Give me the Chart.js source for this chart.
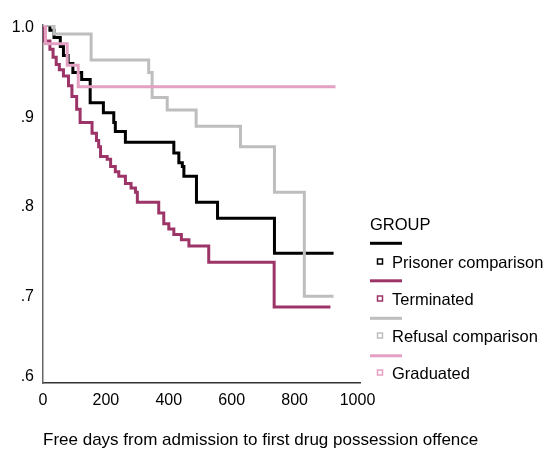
<!DOCTYPE html>
<html>
<head>
<meta charset="utf-8">
<script src="https://cdn.jsdelivr.net/npm/chart.js@4"></script>
<style>
  body { margin: 0; background: #fff; }
</style>
</head>
<body>
<canvas id="mycanvas" width="549" height="449"></canvas>
<script>
// survival curves (days -> cumulative survival)
var groups = ['Prisoner comparison', 'Terminated', 'Refusal comparison', 'Graduated'];
var colors = ['#000000', '#9c3468', '#bebebe', '#e4a0c2'];
var xTitle = 'Free days from admission to first drug possession offence';

var prisonerDays = [0, 22, 35, 55, 65, 80, 95, 123, 150, 192, 225, 230, 262, 416, 432, 443, 448, 488, 555, 736, 924];
var prisonerSurv = [1.0, .994, .986, .976, .966, .957, .947, .939, .913, .902, .891, .881, .869, .857, .846, .842, .831, .802, .784, .745, .745];

var terminatedDays = [0, 5, 22, 32, 42, 52, 65, 81, 92, 107, 118, 156, 170, 177, 183, 204, 215, 230, 241, 262, 280, 294, 300, 368, 384, 400, 416, 440, 464, 527, 735, 914];
var terminatedSurv = [1.0, .982, .973, .964, .956, .950, .943, .932, .920, .906, .891, .879, .871, .864, .853, .850, .842, .836, .831, .823, .818, .813, .802, .790, .778, .772, .766, .760, .753, .735, .685, .685];

var refusalDays = [0, 35, 153, 336, 347, 395, 487, 628, 736, 831, 924];
var refusalSurv = [1.0, .990, .961, .947, .919, .905, .887, .864, .813, .697, .697];

var graduatedDays = [0, 8, 77, 112, 930];
var graduatedSurv = [1.0, .979, .955, .931, .931];

var xTicks = [0, 200, 400, 600, 800, 1000];
var yTicks = [0.6, 0.7, 0.8, 0.9, 1.0];

var FONT = '"Liberation Sans", Arial, sans-serif';

function toPoints(days, surv) {
	var pts = [];
	for (var i = 0; i < days.length; i++) {
		pts.push({x: days[i], y: surv[i]});
	}
	return pts;
}

var allDays = [prisonerDays, terminatedDays, refusalDays, graduatedDays];
var allSurv = [prisonerSurv, terminatedSurv, refusalSurv, graduatedSurv];
var datasets = [];
for (var g = 0; g < groups.length; g++) {
	datasets.push({
		label: groups[g],
		data: toPoints(allDays[g], allSurv[g]),
		borderColor: colors[g],
		borderWidth: 3,
		pointRadius: 0,
		stepped: true,
		fill: false
	});
}
// first dataset is painted on top: graduated over the rest
datasets = [datasets[3], datasets[2], datasets[1], datasets[0]];

var legendPlugin = {
	id: 'groupLegend',
	afterDraw: function(chart) {
		var ctx = chart.ctx;
		ctx.save();
		ctx.textBaseline = 'middle';
		ctx.textAlign = 'left';
		ctx.fillStyle = '#000';
		// axis title, left aligned with the plot like the original
		ctx.font = '17px ' + FONT;
		ctx.fillText(xTitle, 43, 440);
		ctx.font = '16.5px ' + FONT;
		ctx.fillText('GROUP', 370, 225);
		for (var i = 0; i < groups.length; i++) {
			var ly = 243.3 + i * 37.5;
			ctx.strokeStyle = colors[i];
			ctx.lineWidth = 3;
			ctx.beginPath();
			ctx.moveTo(370, ly);
			ctx.lineTo(402, ly);
			ctx.stroke();
			var sy = 261.5 + i * 37;
			ctx.lineWidth = 1.5;
			ctx.strokeRect(377.5, sy - 2.5, 5, 5);
			ctx.fillStyle = '#000';
			ctx.fillText(groups[i], 392, sy + 1.5);
		}
		ctx.restore();
	}
};

var ctx = document.getElementById('mycanvas');
var chart = new Chart(ctx, {
	type: 'line',
	data: {datasets: datasets},
	plugins: [legendPlugin],
	options: {
		responsive: false,
		animation: false,
		layout: {padding: {top: 25, right: 189, left: 0, bottom: 0}},
		plugins: {legend: {display: false}, tooltip: {enabled: false}},
		scales: {
			x: {
				type: 'linear',
				min: 0,
				max: 1008,
				afterFit: function(scale) { scale.height = 66; },
				afterBuildTicks: function(scale) {
					scale.ticks = xTicks.map(function(v) { return {value: v}; });
				},
				grid: {display: false, drawTicks: false},
				border: {display: true, color: '#333', width: 1.5},
				ticks: {
					padding: 8,
					color: '#000',
					font: {family: FONT, size: 16},
					maxRotation: 0,
					callback: function(v) { return String(v); }
				}
			},
			y: {
				type: 'linear',
				min: 0.6,
				max: 1.0,
				afterFit: function(scale) { scale.width = 43; },
				afterBuildTicks: function(scale) {
					// bottom label sits a little above the axis line in the original
					scale.ticks = yTicks.map(function(v) { return {value: v === scale.min ? v + 0.01 : v}; });
				},
				grid: {display: false, drawTicks: false},
				border: {display: true, color: '#666', width: 1.5},
				ticks: {
					padding: 9,
					labelOffset: 3,
					color: '#000',
					font: {family: FONT, size: 16},
					callback: function(v) {
						if (v === 1) return '1.0';
						return String(Math.round(v * 10) / 10).replace('0.', '.');
					}
				}
			}
		}
	}
});
</script>
</body>
</html>
